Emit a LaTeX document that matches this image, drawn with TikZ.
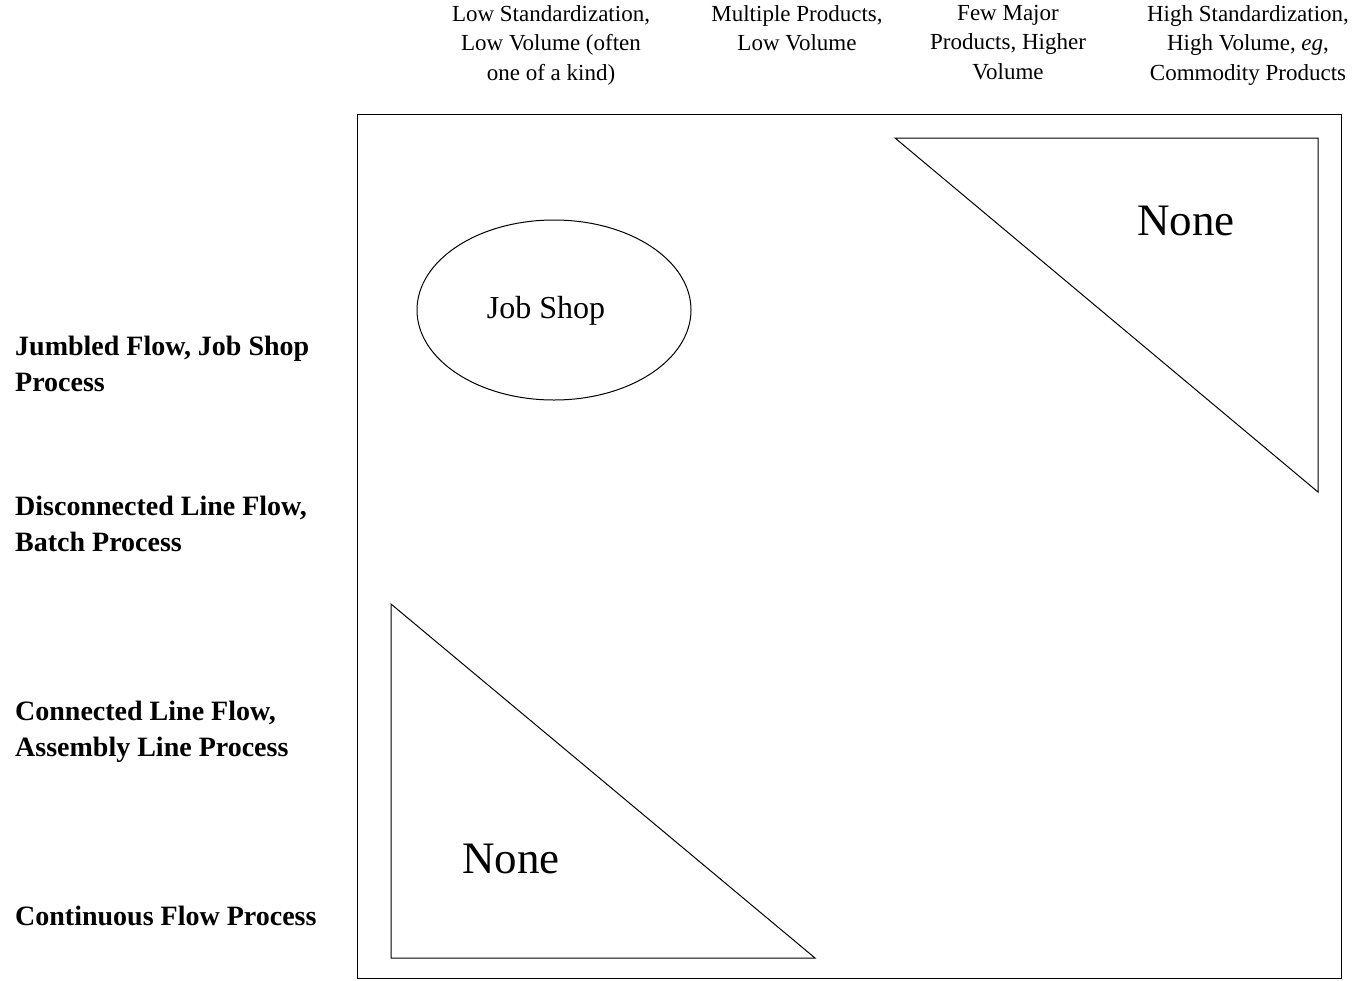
\documentclass[tikz,border=0pt]{standalone}
\usepackage{fontspec}
\setmainfont{Liberation Serif}
\usetikzlibrary{shapes.geometric}
\begin{document}
\begin{tikzpicture}[x=1pt,y=-1pt,
  toplab/.style={align=center,font=\fontsize{23}{29.5}\selectfont,inner sep=0pt,anchor=north},
  leftlab/.style={align=left,font=\bfseries\fontsize{28}{35.5}\selectfont,inner sep=0pt,anchor=north west},
  shape line/.style={draw=black,line width=1pt}]
\useasboundingbox[fill=white] (0,0) rectangle (1359,980);
% outer frame
\node[draw,line width=1.2pt,minimum width=984pt,minimum height=864pt,inner sep=0pt,anchor=north west] (frame) at (357,114) {};
% top labels
\node[toplab] (c1) at (551,5) {Low Standardization,\\Low Volume (often\\one of a kind)};
\node[toplab] (c2) at (797,5) {Multiple Products,\\Low Volume};
\node[toplab] (c3) at (1008,5) {Few Major\\Products, Higher\\Volume};
\node[toplab] (c4) at (1248,5) {High Standardization,\\High Volume, \textit{eg},\\Commodity Products};
% left labels
\node[leftlab] (r1) at (15,336) {Jumbled Flow, Job Shop\\Process};
\node[leftlab] (r2) at (15,496) {Disconnected Line Flow,\\Batch Process};
\node[leftlab] (r3) at (15,701) {Connected Line Flow,\\Assembly Line Process};
\node[leftlab] (r4) at (15,906) {Continuous Flow Process};
% ellipse
\node[ellipse,draw,line width=1pt,minimum width=274pt,minimum height=180pt,inner sep=0pt] (job) at (554,310) {};
\node[font=\fontsize{32}{34}\selectfont] (jobtxt) at (546,311) {Job Shop};
% upper triangle
\coordinate (ua) at (895,138);
\coordinate (ub) at (1318,138);
\coordinate (uc) at (1318,492);
\draw[shape line] (ua) -- (ub) -- (uc) -- cycle;
\node[font=\fontsize{45}{48}\selectfont] (none1) at (1186,221) {None};
% lower triangle
\coordinate (la) at (391,604);
\coordinate (lb) at (391,958);
\coordinate (lc) at (815,958);
\draw[shape line] (la) -- (lb) -- (lc) -- cycle;
\node[font=\fontsize{45}{48}\selectfont] (none2) at (511,859) {None};
\end{tikzpicture}
\end{document}
